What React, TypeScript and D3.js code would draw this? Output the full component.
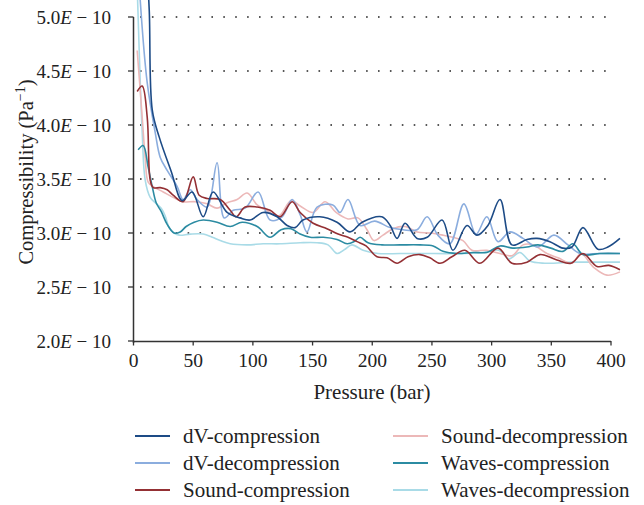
import React from "react";
import * as d3 from "d3";

// Values in units of 1E-10 Pa^-1, pressure in bar
const dvCompression: [number, number][] = [
  [11, 5.5], [13.2, 5.06], [15.7, 4.14], [21.5, 3.89], [31.6, 3.57], [40.8, 3.3], [49.1, 3.38], [58.4, 3.15],
  [66.7, 3.38], [78.4, 3.19], [89.3, 3.14], [97.7, 3.12], [108.6, 3.19], [120.3, 3.15], [128.7, 3.07],
  [135.4, 3.05], [142, 3.12], [156, 3.15], [170.5, 3.1], [181.4, 3.01], [191.5, 3.1], [208, 3.15],
  [215, 3.07], [220.8, 2.95], [227.5, 3.09], [237.5, 2.95], [246, 2.96], [258.5, 3.12], [267.6, 2.84],
  [279.3, 3.07], [287.7, 2.98], [296.9, 3.07], [307, 3.31], [317, 2.89], [329.6, 2.94], [338, 2.95],
  [348.8, 2.92], [359.7, 2.86], [367.3, 2.87], [376.5, 3.05], [389, 2.85], [397.4, 2.87], [407.5, 2.95],
];
const dvDecompression: [number, number][] = [
  [4, 5.5], [5.6, 5.16], [11.5, 4.39], [18.2, 3.93], [22.4, 3.7], [28.2, 3.58], [36.6, 3.43], [41.6, 3.31],
  [47.5, 3.4], [53.3, 3.31], [61.7, 3.24], [70, 3.65], [76, 3.14], [83.5, 3.21], [93.5, 3.23], [104.4, 3.38],
  [114.4, 3.12], [124.5, 3.15], [132.9, 3.31], [139.6, 3.17], [145.3, 3.01], [153.8, 3.24], [167, 3.26],
  [173, 3.19], [179.7, 3.31], [189.8, 3.07], [202, 3.11], [214.9, 3.05], [225.8, 3.03], [237.5, 3.03],
  [246, 3.15], [255, 2.98], [265, 2.9], [276.8, 3.27], [286.9, 2.99], [296, 3.15], [305.3, 2.92],
  [315.4, 3.01], [326.3, 2.95], [338.8, 2.87], [352.2, 2.98], [363.9, 2.89], [374, 2.81], [390.7, 2.81],
  [407.5, 2.81],
];
const soundCompression: [number, number][] = [
  [3.1, 4.31], [7.3, 4.36], [11.5, 4.07], [14, 3.49], [16.5, 3.42], [22.4, 3.42], [28.2, 3.4], [33.2, 3.35],
  [41.6, 3.29], [50, 3.52], [55, 3.35], [61.7, 3.32], [72.6, 3.31], [81, 3.21], [86, 3.15], [93.5, 3.24],
  [103.6, 3.24], [114.4, 3.21], [122.8, 3.15], [132.9, 3.29], [139.6, 3.19], [150.5, 3.09], [162, 3.04],
  [171.4, 2.99], [179.7, 2.96], [187.3, 2.92], [194.8, 2.88], [204, 2.78], [212.4, 2.77], [220.8, 2.72],
  [230, 2.78], [240, 2.8], [248.3, 2.77], [256.7, 2.72], [266.7, 2.78], [277.6, 2.84], [290.2, 2.72],
  [305.3, 2.86], [317, 2.72], [329.6, 2.73], [340.5, 2.8], [354.7, 2.75], [366.5, 2.72], [376.5, 2.81],
  [388.3, 2.69], [398.2, 2.7], [407.5, 2.66],
];
const soundDecompression: [number, number][] = [
  [3.1, 4.69], [7.3, 4.07], [9.8, 3.7], [12.3, 3.47], [16.5, 3.43], [24.9, 3.38], [33.2, 3.33], [41.6, 3.29],
  [51.6, 3.29], [61.7, 3.27], [70, 3.23], [78.4, 3.28], [86.8, 3.31], [95.2, 3.37], [103.6, 3.26],
  [112.8, 3.2], [122, 3.16], [132, 3.3], [139.6, 3.25], [150.5, 3.19], [160.5, 3.29], [169.7, 3.19],
  [179.7, 3.13], [188, 3.14], [195.6, 3.03], [201.5, 2.93], [209, 2.98], [217.4, 3.04], [227.5, 3.06],
  [237.5, 3.01], [248.3, 3.0], [259.2, 2.98], [267.6, 2.96], [276, 2.93], [283.5, 2.84], [296, 2.84],
  [307, 2.81], [317, 2.79], [326.3, 2.89], [334.7, 2.89], [346.3, 2.81], [355.6, 2.77], [367.3, 2.72],
  [374.8, 2.81], [385.7, 2.68], [396.6, 2.61], [407.5, 2.64],
];
const wavesCompression: [number, number][] = [
  [3.9, 3.77], [8.1, 3.81], [12.3, 3.61], [15.7, 3.43], [19, 3.28], [23.2, 3.2], [28.2, 3.08], [34, 3.0],
  [39.1, 3.01], [44.1, 3.06], [50.8, 3.1], [58.4, 3.12], [70, 3.1], [81, 3.06], [91, 3.1], [103.6, 3.06],
  [114.4, 2.96], [123.6, 3.03], [132, 3.04], [139.6, 2.99], [148, 2.96], [159, 2.96], [170.5, 2.94],
  [179, 2.9], [184.8, 2.92], [189.8, 2.96], [196.5, 2.91], [208.2, 2.89], [223.3, 2.89], [240, 2.89],
  [251, 2.88], [259.2, 2.83], [271, 2.81], [284.4, 2.82], [296, 2.82], [307, 2.88], [317.8, 2.86],
  [329.6, 2.87], [338.8, 2.89], [349.6, 2.86], [359.7, 2.83], [368, 2.9], [376.5, 2.8], [390.7, 2.81],
  [407.5, 2.81],
];
const wavesDecompression: [number, number][] = [
  [2.5, 5.5], [3.6, 5.1], [7.3, 3.93], [9.8, 3.49], [14, 3.33], [18.2, 3.28], [23.2, 3.23], [26.5, 3.16],
  [29.9, 3.05], [34, 3.0], [38.3, 2.98], [47.5, 2.99], [58.4, 2.99], [66, 2.96], [72.6, 2.93], [81, 2.9],
  [95.2, 2.89], [108.6, 2.9], [122.8, 2.9], [139.6, 2.91], [153.8, 2.91], [163, 2.89], [170.5, 2.81],
  [177.2, 2.85], [183, 2.89], [192.3, 2.84], [204.8, 2.81], [223.3, 2.81], [242.5, 2.81], [271, 2.81],
  [292.7, 2.82], [306, 2.84], [314.5, 2.76], [323.7, 2.82], [332, 2.74], [344.6, 2.72], [368, 2.73],
  [390.7, 2.73], [407.5, 2.73],
];

const seriesNames = [
  "dV-compression", "dV-decompression", "Sound-compression",
  "Sound-decompression", "Waves-compression", "Waves-decompression",
];
const seriesColors = ["#1d4b86", "#8badde", "#943034", "#ecb8b8", "#2b8ba2", "#a9dbe7"];
const seriesData = [dvCompression, dvDecompression, soundCompression, soundDecompression, wavesCompression, wavesDecompression];

const xTicks = [0, 50, 100, 150, 200, 250, 300, 350, 400];
const yTicks = [2.0, 2.5, 3.0, 3.5, 4.0, 4.5, 5.0];
const gridValues = [2.5, 3.0, 3.5, 4.0, 4.5, 5.0];

const W = 644, H = 505;
const FONT = "'Liberation Serif', 'Times New Roman', serif";

export default function App() {
  const x = d3.scaleLinear().domain([0, 400]).range([133.5, 611]);
  const y = d3.scaleLinear().domain([2, 5]).range([341, 17]);
  const line = d3.line<[number, number]>()
    .x((d) => x(d[0]))
    .y((d) => y(d[1]))
    .curve(d3.curveCatmullRom.alpha(0.5));

  // legend order: column 1 rows 0..2, column 2 rows 0..2
  const legendPos = seriesNames.map((_, i) => ({
    col: Math.floor(i / 3),
    row: i % 3,
  }));

  return (
    <svg width={W} height={H} style={{ position: "absolute", left: 0, top: 0, background: "#fff" }}
      fontFamily={FONT}>
      <defs>
        <clipPath id="plotclip">
          <rect x={134} y={0} width={W - 134} height={341} />
        </clipPath>
      </defs>
      {/* grid */}
      {gridValues.map((v) => (
        <line key={v} x1={140} x2={608} y1={y(v)} y2={y(v)} stroke="#222" strokeWidth={1.6}
          strokeDasharray="1.6 10.3" />
      ))}
      {/* lines (light ones first) */}
      <g clipPath="url(#plotclip)" fill="none" strokeWidth={1.6} strokeLinejoin="round">
        {[5, 3, 1, 4, 2, 0].map((i) => (
          <path key={i} d={line(seriesData[i]) || ""} stroke={seriesColors[i]} />
        ))}
      </g>
      {/* axes */}
      <line x1={133.5} x2={133.5} y1={17} y2={343} stroke="#333" strokeWidth={1.5} />
      <line x1={133} x2={611} y1={341.5} y2={341.5} stroke="#333" strokeWidth={1.5} />
      {yTicks.map((v) => (
        <g key={v}>
          <line x1={128} x2={133.5} y1={y(v)} y2={y(v)} stroke="#333" strokeWidth={1.3} />
          <text x={111} y={y(v) + 6.5} textAnchor="end" fontSize={19} fill="#222">
            {v.toFixed(1)}
            <tspan fontStyle="italic">E</tspan>
            {" − 10"}
          </text>
        </g>
      ))}
      {xTicks.map((v) => (
        <g key={v}>
          <line x1={x(v)} x2={x(v)} y1={341} y2={345.5} stroke="#333" strokeWidth={1.3} />
          <text x={x(v)} y={367} textAnchor="middle" fontSize={19.5} fill="#222">{v}</text>
        </g>
      ))}
      <text x={372} y={399} textAnchor="middle" fontSize={21} fill="#222">Pressure (bar)</text>
      <text transform="translate(33,172) rotate(-90)" textAnchor="middle" fontSize={20.5} fill="#222">
        Compressibility (Pa
        <tspan fontSize={14} dy={-8}>−1</tspan>
        <tspan dy={8}>)</tspan>
      </text>
      {/* legend */}
      {legendPos.map((p, i) => {
        const lx = p.col === 0 ? 135 : 393;
        const ly = 436 + p.row * 27;
        return (
          <g key={i}>
            <line x1={lx} x2={lx + 35} y1={ly} y2={ly} stroke={seriesColors[i]} strokeWidth={2} />
            <text x={lx + 48} y={ly + 7} fontSize={21} fill="#222">{seriesNames[i]}</text>
          </g>
        );
      })}
    </svg>
  );
}
